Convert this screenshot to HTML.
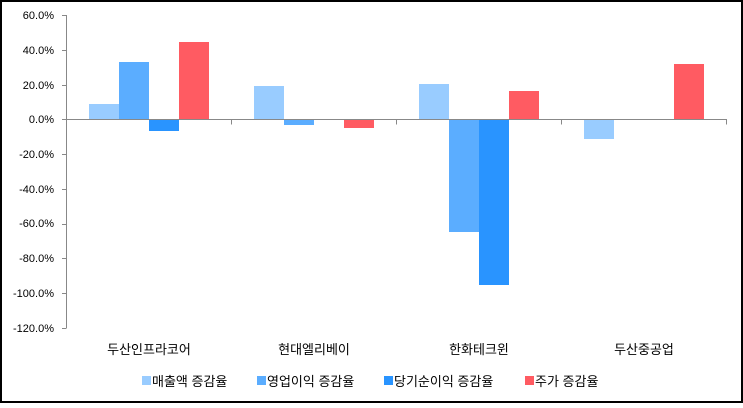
<!DOCTYPE html>
<html><head><meta charset="utf-8"><style>
html,body{margin:0;padding:0;background:#fff}
svg text{font-family:"Liberation Sans","Noto Sans CJK KR",sans-serif;fill:#000}
</style></head><body>
<svg width="743" height="403" viewBox="0 0 743 403" xmlns="http://www.w3.org/2000/svg">
<rect x="1" y="1" width="741" height="401" fill="#fff" stroke="#000" stroke-width="2"/>
<g font-size="11" text-anchor="end">
<text x="54" y="19">60.0%</text>
<text x="54" y="54">40.0%</text>
<text x="54" y="89">20.0%</text>
<text x="54" y="123">0.0%</text>
<text x="54" y="158">-20.0%</text>
<text x="54" y="193">-40.0%</text>
<text x="54" y="227">-60.0%</text>
<text x="54" y="262">-80.0%</text>
<text x="54" y="297">-100.0%</text>
<text x="54" y="332">-120.0%</text>
</g>
<g stroke="#888" stroke-width="1">
<line x1="66.5" y1="15" x2="66.5" y2="328.5"/>
<line x1="62" y1="15.5" x2="66" y2="15.5"/>
<line x1="62" y1="50.5" x2="66" y2="50.5"/>
<line x1="62" y1="85.5" x2="66" y2="85.5"/>
<line x1="62" y1="119.5" x2="66" y2="119.5"/>
<line x1="62" y1="154.5" x2="66" y2="154.5"/>
<line x1="62" y1="189.5" x2="66" y2="189.5"/>
<line x1="62" y1="224.5" x2="66" y2="224.5"/>
<line x1="62" y1="258.5" x2="66" y2="258.5"/>
<line x1="62" y1="293.5" x2="66" y2="293.5"/>
<line x1="62" y1="328.5" x2="66" y2="328.5"/>
</g>
<rect x="89" y="104" width="30" height="15.5" fill="#99CCFF"/>
<rect x="119" y="62" width="30" height="57.5" fill="#5BADFF"/>
<rect x="149" y="119.5" width="30" height="11.5" fill="#2994FF"/>
<rect x="179" y="42" width="30" height="77.5" fill="#FF5B62"/>
<rect x="254" y="86" width="30" height="33.5" fill="#99CCFF"/>
<rect x="284" y="119.5" width="30" height="5.5" fill="#5BADFF"/>
<rect x="344" y="119.5" width="30" height="8.5" fill="#FF5B62"/>
<rect x="419" y="84" width="30" height="35.5" fill="#99CCFF"/>
<rect x="449" y="119.5" width="30" height="112.5" fill="#5BADFF"/>
<rect x="479" y="119.5" width="30" height="165.5" fill="#2994FF"/>
<rect x="509" y="91" width="30" height="28.5" fill="#FF5B62"/>
<rect x="584" y="119.5" width="30" height="19.5" fill="#99CCFF"/>
<rect x="674" y="64" width="30" height="55.5" fill="#FF5B62"/>
<g stroke="#888" stroke-width="1">
<line x1="66" y1="119.5" x2="727" y2="119.5"/>
<line x1="231.5" y1="119.5" x2="231.5" y2="124.5"/>
<line x1="396.5" y1="119.5" x2="396.5" y2="124.5"/>
<line x1="561.5" y1="119.5" x2="561.5" y2="124.5"/>
<line x1="726.5" y1="119.5" x2="726.5" y2="124.5"/>
</g>
<g font-size="13" text-anchor="middle">
<text x="149" y="354">두산인프라코어</text>
<text x="314" y="354">현대엘리베이</text>
<text x="479" y="354">한화테크윈</text>
<text x="644" y="354">두산중공업</text>
</g>
<g font-size="13">
<rect x="142" y="376" width="9" height="9" fill="#99CCFF"/><text x="152" y="386">매출액 증감율</text>
<rect x="257" y="376" width="9" height="9" fill="#5BADFF"/><text x="267" y="386">영업이익 증감율</text>
<rect x="384" y="376" width="9" height="9" fill="#2994FF"/><text x="394" y="386">당기순이익 증감율</text>
<rect x="525" y="376" width="9" height="9" fill="#FF5B62"/><text x="535" y="386">주가 증감율</text>
</g>
</svg>
</body></html>
